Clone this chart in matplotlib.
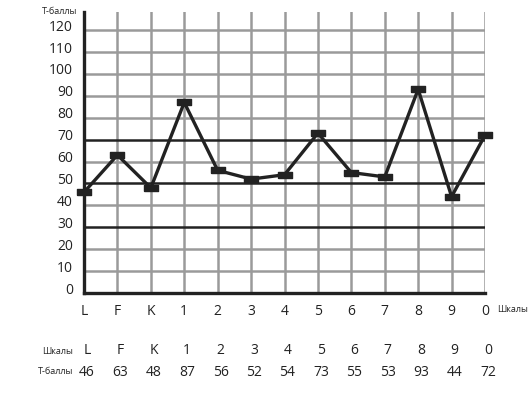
import matplotlib
matplotlib.use('Agg')
from matplotlib import pyplot as plt
from matplotlib import transforms as mtrans

# Data #
scales  = ['L', 'F', 'K', '1', '2', '3', '4', '5', '6', '7', '8', '9', '0']
tscores = [46, 63, 48, 87, 56, 52, 54, 73, 55, 53, 93, 44, 72]
y_ticks = [0, 10, 20, 30, 40, 50, 60, 70, 80, 90, 100, 110, 120]
bold_levels = [30, 50, 70]

plt.rcParams['font.family'] = ['Open Sans', 'DejaVu Sans']

# Plot #
fig = plt.figure(figsize=(5.3, 3.95), dpi=100)
ax = fig.add_axes([84/530., 102/395., 401/530., 281/395.])
xs = list(range(len(scales)))

# grid #
for x in xs[1:]:
    ax.axvline(x, color='#9a9a9a', lw=1.8, zorder=1)
for y in y_ticks:
    if y in bold_levels:
        ax.axhline(y, color='#222222', lw=1.8, zorder=2)
    elif y > 0:
        ax.axhline(y, color='#9a9a9a', lw=1.8, zorder=1)

# profile #
rect = [(-1, -0.5), (1, -0.5), (1, 0.5), (-1, 0.5), (-1, -0.5)]
ax.plot(xs, tscores, color='#222222', lw=2.4, marker=rect, markersize=9.5,
        markerfacecolor='#222222', markeredgecolor='#222222', zorder=4, clip_on=False)

ax.set_xlim(0, len(scales) - 1)
ax.set_ylim(0, 128.3)
for s in ['top', 'right']:
    ax.spines[s].set_visible(False)
for s in ['left', 'bottom']:
    ax.spines[s].set_linewidth(2.4)
    ax.spines[s].set_color('#222222')
    ax.spines[s].set_zorder(5)

ax.set_yticks(y_ticks)
ax.set_yticklabels([str(v) for v in y_ticks], fontsize=10, color='#222222')
ax.tick_params(axis='y', length=0, pad=8)
shift = mtrans.ScaledTranslation(0, 5/100., fig.dpi_scale_trans)
for lab in ax.get_yticklabels():
    lab.set_transform(lab.get_transform() + shift)

ax.set_xticks(xs)
ax.set_xticklabels(scales, fontsize=10, color='#222222')
ax.tick_params(axis='x', length=0, pad=8)

# labels #
fig.text(60/530., 1 - 11/395., u'Т-баллы', fontsize=6.5, ha='center', va='center', color='#222222')
fig.text(497/530., 1 - 310/395., u'Шкалы', fontsize=6.5, ha='left', va='center', color='#222222')

# table #
row1 = 1 - 351/395.
row2 = 1 - 372/395.
fig.text(73/530., row1, u'Шкалы', fontsize=6.5, ha='right', va='center', color='#222222')
fig.text(73/530., row2, u'Т-баллы', fontsize=6.5, ha='right', va='center', color='#222222')
for i, (s, v) in enumerate(zip(scales, tscores)):
    xf = (84 + 3 + i * 401/12.) / 530.
    fig.text(xf, row1, s, fontsize=10, ha='center', va='center', color='#222222')
    fig.text(xf, row2, str(v), fontsize=10, ha='center', va='center', color='#222222')

fig.savefig('out.png', dpi=100)
